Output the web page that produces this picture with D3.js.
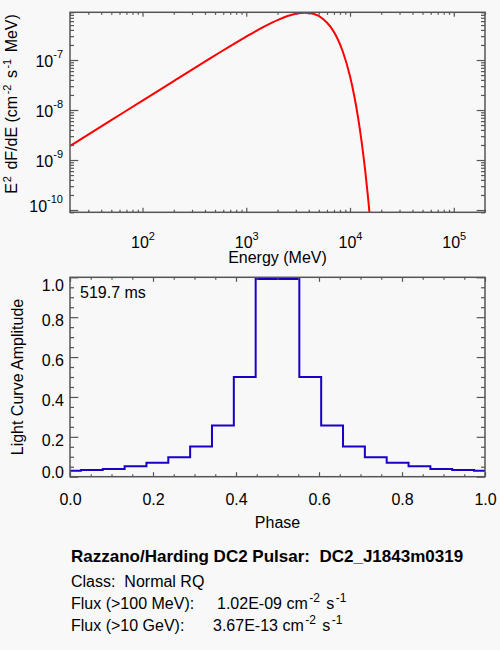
<!DOCTYPE html>
<html><head><meta charset="utf-8">
<script src="https://cdn.jsdelivr.net/npm/d3@7"></script>
<style>
html,body{margin:0;padding:0;background:#f8f8f8;}
svg{display:block;font-family:"Liberation Sans",Arial,Helvetica,sans-serif;}
</style></head><body>
<svg id="c" width="500" height="650"></svg>
<script>
// ---- data ----
const energyMeV = [20, 50, 100, 200, 500, 1000, 1500, 2000, 2500, 3000, 3680, 4500, 5500, 6500, 7500, 8500, 10000, 11000, 12000, 13000, 14000, 15000, 16000];
const e2dnde = [1.91e-9, 6.27e-9, 1.54e-8, 3.79e-8, 1.24e-7, 2.94e-7, 4.70e-7, 6.30e-7, 7.57e-7, 8.41e-7, 8.83e-7, 8.31e-7, 6.64e-7, 4.60e-7, 2.79e-7, 1.50e-7, 4.72e-8, 1.88e-8, 6.74e-9, 2.16e-9, 6.19e-10, 1.59e-10, 3.64e-11];
const phaseBins = [0.0000, 0.0526, 0.1053, 0.1579, 0.2105, 0.2632, 0.3158, 0.3684, 0.4211, 0.4737, 0.5263, 0.5789, 0.6316, 0.6842, 0.7368, 0.7895, 0.8421, 0.8947, 0.9474, 1.0000];
const amplitude = [0.030, 0.033, 0.039, 0.052, 0.070, 0.097, 0.152, 0.257, 0.500, 0.992, 0.992, 0.500, 0.257, 0.152, 0.097, 0.070, 0.052, 0.039, 0.033, 0.030];
const energyTicks = [1e2, 1e3, 1e4, 1e5];
const energyExp = ["2", "3", "4", "5"];
const fluxTicks = [1e-7, 1e-8, 1e-9, 1e-10];
const fluxExp = ["-7", "-8", "-9", "-10"];
const phaseTicks = [0, 0.2, 0.4, 0.6, 0.8, 1.0];
const ampTicks = [0, 0.2, 0.4, 0.6, 0.8, 1.0];
const periodLabel = "519.7 ms";
const pulsarTitle = "Razzano/Harding DC2 Pulsar:  DC2_J1843m0319";
const pulsarClass = "Class:  Normal RQ";
const fluxLabels = ["Flux (>100 MeV):", "Flux (>10 GeV):"];
const fluxValues = ["1.02E-09", "3.67E-13"];

// ---- drawing ----
const FONT = '"Liberation Sans", Arial, Helvetica, sans-serif';
const AX = '#555';
const svg = d3.select('#c');
svg.append('rect').attr('width', 500).attr('height', 650).attr('fill', '#f8f8f8');

function styleAxis(g) {
  g.select('.domain').remove();
  g.selectAll('line').attr('stroke', AX).attr('stroke-width', 1.2);
  g.attr('font-family', FONT).attr('font-size', 16).attr('fill', '#000');
  g.selectAll('text').attr('fill', '#000');
}
function sup(textSel, base, exp, dy) {
  textSel.append('tspan').text(base);
  textSel.append('tspan').attr('font-size', 11).attr('dy', dy).text(exp);
}

// ================= Top panel: spectrum =================
const T = {l: 70, r: 485, t: 12.3, b: 212.3};
const x1 = d3.scaleLog().domain([20, 2e5]).range([T.l, T.r]);
const y1 = d3.scaleLog().domain([9e-11, 9e-7]).range([T.b, T.t]);
const isDecade = v => Math.abs(Math.log10(v) - Math.round(Math.log10(v))) < 1e-6;
const x1Minor = x1.ticks().filter(v => !isDecade(v));
const y1Minor = y1.ticks().filter(v => !isDecade(v));

svg.append('clipPath').attr('id', 'clipTop').append('rect')
  .attr('x', T.l).attr('y', T.t).attr('width', T.r - T.l).attr('height', T.b - T.t);

const line1 = d3.line().x((d, i) => x1(energyMeV[i])).y(d => y1(d)).curve(d3.curveMonotoneX);
svg.append('path').datum(e2dnde).attr('d', line1).attr('fill', 'none')
  .attr('stroke', '#ff0000').attr('stroke-width', 2).attr('clip-path', 'url(#clipTop)');

// bottom axis with labels
const gB1 = svg.append('g').attr('transform', `translate(0,${T.b})`)
  .call(d3.axisBottom(x1).tickValues(energyTicks).tickSize(-4.5).tickFormat(() => ''));
styleAxis(gB1);
gB1.selectAll('.tick text').attr('dy', null).attr('y', 35.7).each(function(d, i) {
  sup(d3.select(this), '10', energyExp[i], -8);
});
svg.append('g').attr('transform', `translate(0,${T.b})`)
  .call(d3.axisBottom(x1).tickValues(x1Minor).tickSize(-2.5).tickFormat(() => '')).call(styleAxis);
svg.append('g').attr('transform', `translate(0,${T.t})`)
  .call(d3.axisTop(x1).tickValues(energyTicks).tickSize(-4.5).tickFormat(() => '')).call(styleAxis);
svg.append('g').attr('transform', `translate(0,${T.t})`)
  .call(d3.axisTop(x1).tickValues(x1Minor).tickSize(-2.5).tickFormat(() => '')).call(styleAxis);

// left axis with labels
const gL1 = svg.append('g').attr('transform', `translate(${T.l},0)`)
  .call(d3.axisLeft(y1).tickValues(fluxTicks).tickSize(-8.3).tickPadding(7).tickFormat(() => ''));
styleAxis(gL1);
gL1.selectAll('.tick text').attr('dy', null).each(function(d, i) {
  const t = d3.select(this);
  t.attr('y', i === fluxTicks.length - 1 ? 1.7 : 6.5);
  sup(t, '10', fluxExp[i], -9.5);
});
svg.append('g').attr('transform', `translate(${T.l},0)`)
  .call(d3.axisLeft(y1).tickValues(y1Minor).tickSize(-4).tickFormat(() => '')).call(styleAxis);
svg.append('g').attr('transform', `translate(${T.r},0)`)
  .call(d3.axisRight(y1).tickValues(fluxTicks).tickSize(-8.3).tickFormat(() => '')).call(styleAxis);
svg.append('g').attr('transform', `translate(${T.r},0)`)
  .call(d3.axisRight(y1).tickValues(y1Minor).tickSize(-4).tickFormat(() => '')).call(styleAxis);

svg.append('rect').attr('x', T.l).attr('y', T.t).attr('width', T.r - T.l).attr('height', T.b - T.t)
  .attr('fill', 'none').attr('stroke', AX).attr('stroke-width', 1.5);

svg.append('text').attr('x', (T.l + T.r) / 2).attr('y', 263.3).attr('text-anchor', 'middle')
  .attr('font-size', 16).attr('font-family', FONT).text('Energy (MeV)');

const yt1 = svg.append('text').attr('transform', 'translate(17,104) rotate(-90)')
  .attr('text-anchor', 'middle').attr('font-size', 16).attr('font-family', FONT);
yt1.append('tspan').text('E');
yt1.append('tspan').attr('font-size', 11).attr('dy', -6).attr('dx', 1).text('2');
yt1.append('tspan').attr('dy', 6).attr('dx', 2).text(' dF/dE (cm');
yt1.append('tspan').attr('font-size', 11).attr('dy', -6).attr('dx', 1.5).text('-2');
yt1.append('tspan').attr('dy', 6).attr('dx', 2).text(' s');
yt1.append('tspan').attr('font-size', 11).attr('dy', -6).attr('dx', 1.5).text('-1');
yt1.append('tspan').attr('dy', 6).attr('dx', 2).text(' MeV)');

// ================= Bottom panel: light curve =================
const B = {l: 70, r: 485, t: 277.3, b: 476.7};
const x2 = d3.scaleLinear().domain([0, 1]).range([B.l, B.r]);
const y2 = d3.scaleLinear().domain([0, 1]).range([B.b, B.t]);
const x2Minor = x2.ticks(20).filter(v => phaseTicks.every(m => Math.abs(m - v) > 1e-6));
const y2Minor = y2.ticks(20).filter(v => ampTicks.every(m => Math.abs(m - v) > 1e-6));

const line2 = d3.line().x((d, i) => x2(phaseBins[i])).y(d => y2(d)).curve(d3.curveStep);
svg.append('path').datum(amplitude).attr('d', line2).attr('fill', 'none')
  .attr('stroke', '#1800c8').attr('stroke-width', 2);

const gB2 = svg.append('g').attr('transform', `translate(0,${B.b})`)
  .call(d3.axisBottom(x2).tickValues(phaseTicks).tickSize(-4.5).tickFormat(d3.format('.1f')));
styleAxis(gB2);
gB2.selectAll('.tick text').attr('dy', null).attr('y', 28.3);
svg.append('g').attr('transform', `translate(0,${B.b})`)
  .call(d3.axisBottom(x2).tickValues(x2Minor).tickSize(-2.5).tickFormat(() => '')).call(styleAxis);
svg.append('g').attr('transform', `translate(0,${B.t})`)
  .call(d3.axisTop(x2).tickValues(phaseTicks).tickSize(-4.5).tickFormat(() => '')).call(styleAxis);
svg.append('g').attr('transform', `translate(0,${B.t})`)
  .call(d3.axisTop(x2).tickValues(x2Minor).tickSize(-2.5).tickFormat(() => '')).call(styleAxis);

const gL2 = svg.append('g').attr('transform', `translate(${B.l},0)`)
  .call(d3.axisLeft(y2).tickValues(ampTicks).tickSize(-8.3).tickPadding(6).tickFormat(d3.format('.1f')));
styleAxis(gL2);
gL2.selectAll('.tick text').attr('dy', null).attr('y', d => d === 0 ? 0.4 : (d === 1 ? 13 : 8.7));
svg.append('g').attr('transform', `translate(${B.l},0)`)
  .call(d3.axisLeft(y2).tickValues(y2Minor).tickSize(-4).tickFormat(() => '')).call(styleAxis);
svg.append('g').attr('transform', `translate(${B.r},0)`)
  .call(d3.axisRight(y2).tickValues(ampTicks).tickSize(-8.3).tickFormat(() => '')).call(styleAxis);
svg.append('g').attr('transform', `translate(${B.r},0)`)
  .call(d3.axisRight(y2).tickValues(y2Minor).tickSize(-4).tickFormat(() => '')).call(styleAxis);

svg.append('rect').attr('x', B.l).attr('y', B.t).attr('width', B.r - B.l).attr('height', B.b - B.t)
  .attr('fill', 'none').attr('stroke', AX).attr('stroke-width', 1.5);

svg.append('text').attr('x', 80).attr('y', 298.3).attr('font-size', 16).attr('font-family', FONT).text(periodLabel);
svg.append('text').attr('x', (B.l + B.r) / 2).attr('y', 528).attr('text-anchor', 'middle')
  .attr('font-size', 16).attr('font-family', FONT).text('Phase');
svg.append('text').attr('transform', 'translate(23,377) rotate(-90)').attr('text-anchor', 'middle')
  .attr('font-size', 16).attr('font-family', FONT).text('Light Curve Amplitude');

// ================= Info text =================
svg.append('text').attr('x', 71).attr('y', 561.5).attr('font-size', 17).attr('font-weight', 'bold')
  .attr('font-family', FONT).style('white-space', 'pre').text(pulsarTitle);
svg.append('text').attr('x', 71).attr('y', 587).attr('font-size', 16)
  .attr('font-family', FONT).style('white-space', 'pre').text(pulsarClass);
const fluxY = [608.5, 630.5];
const fluxX = [217, 213];
fluxLabels.forEach((lab, i) => {
  svg.append('text').attr('x', 71).attr('y', fluxY[i]).attr('font-size', 16).attr('font-family', FONT).text(lab);
  const t = svg.append('text').attr('x', fluxX[i]).attr('y', fluxY[i]).attr('font-size', 16)
    .attr('font-family', FONT).style('white-space', 'pre');
  t.append('tspan').text(fluxValues[i] + ' cm');
  t.append('tspan').attr('font-size', 12).attr('dy', -7).attr('dx', 1.5).text('-2');
  t.append('tspan').attr('dy', 7).attr('dx', 2).text(' s');
  t.append('tspan').attr('font-size', 12).attr('dy', -7).attr('dx', 1.5).text('-1');
});
</script>
</body></html>
